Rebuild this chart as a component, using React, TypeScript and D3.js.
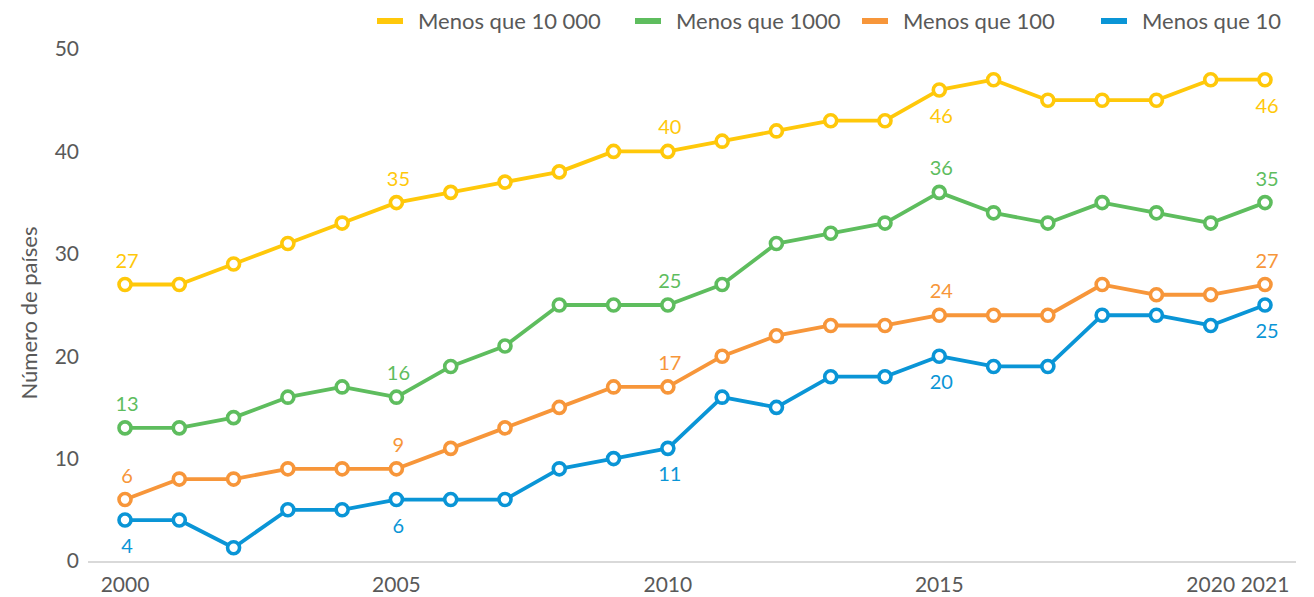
import React from 'react';
import * as d3 from 'd3';

const years = [2000, 2001, 2002, 2003, 2004, 2005, 2006, 2007, 2008, 2009, 2010,
  2011, 2012, 2013, 2014, 2015, 2016, 2017, 2018, 2019, 2020, 2021];

const menos10000 = [27, 27, 29, 31, 33, 35, 36, 37, 38, 40, 40, 41, 42, 43, 43, 46, 47, 45, 45, 45, 47, 47];
const menos1000 = [13, 13, 14, 16, 17, 16, 19, 21, 25, 25, 25, 27, 31, 32, 33, 36, 34, 33, 35, 34, 33, 35];
const menos100 = [6, 8, 8, 9, 9, 9, 11, 13, 15, 17, 17, 20, 22, 23, 23, 24, 24, 24, 27, 26, 26, 27];
const menos10 = [4, 4, 1.3, 5, 5, 6, 6, 6, 9, 10, 11, 16, 15, 18, 18, 20, 19, 19, 24, 24, 23, 25];

// years that carry a value label, and the text shown there
const labelYears = [2000, 2005, 2010, 2015, 2021];
const labels10000 = ['27', '35', '40', '46', '46'];
const labels1000 = ['13', '16', '25', '36', '35'];
const labels100 = ['6', '9', '17', '24', '27'];
const labels10 = ['4', '6', '11', '20', '25'];

const xTicks = [2000, 2005, 2010, 2015, 2020, 2021];
const yTicks = [0, 10, 20, 30, 40, 50];

const series = [
  { name: 'Menos que 10 000', values: menos10000, labels: labels10000, color: '#FFC80A', above: [true, true, true, false, false] },
  { name: 'Menos que 1000', values: menos1000, labels: labels1000, color: '#5EBD5E', above: [true, true, true, true, true] },
  { name: 'Menos que 100', values: menos100, labels: labels100, color: '#F7963A', above: [true, true, true, true, true] },
  { name: 'Menos que 10', values: menos10, labels: labels10, color: '#0A95D6', above: [false, false, false, false, false] },
];

const legendTextX = [418, 676, 903, 1142];

const W = 1314;
const H = 597;
const font = 'Lato, "Open Sans", sans-serif';
const textColor = '#595959';

export default function App() {
  const x = d3.scaleLinear().domain([2000, 2021]).range([125, 1265]);
  const y = d3.scaleLinear().domain([0, 50]).range([561, 49]);

  const line = d3.line<number>()
    .x((_, i) => x(years[i]))
    .y(d => y(d));

  return (
    <svg width={W} height={H} style={{ position: 'absolute', left: 0, top: 0, background: '#fff' }}
      fontFamily={font}>
      {/* legend */}
      {series.map((s, i) => (
        <g key={s.name} transform={`translate(${legendTextX[i]},21)`}>
          <line x1={-41} x2={-15} y1={0} y2={0} stroke={s.color} strokeWidth={6} />
          <text x={0} y={0} dy="0.35em" fontSize={22} fill={textColor}>{s.name}</text>
        </g>
      ))}

      {/* y axis */}
      {yTicks.map(t => (
        <text key={t} x={79} y={y(t)} dy="0.35em" textAnchor="end" fontSize={21} fill={textColor}>{t}</text>
      ))}
      <text transform="translate(29,313) rotate(-90)" textAnchor="middle" dy="0.35em" fontSize={22} fill={textColor}>
        Número de países
      </text>

      {/* baseline */}
      <line x1={88} x2={1296} y1={y(0) + 1} y2={y(0) + 1} stroke="#d9d9d9" strokeWidth={2} />

      {/* x axis labels */}
      {xTicks.map(t => (
        <text key={t} x={x(t)} y={592} textAnchor="middle" fontSize={21} fill={textColor}>{t}</text>
      ))}

      {/* series */}
      {series.map(s => (
        <g key={s.name}>
          <path d={line(s.values) || ''} fill="none" stroke={s.color} strokeWidth={3.8} strokeLinejoin="round" />
          {s.values.map((v, i) => (
            <circle key={i} cx={x(years[i])} cy={y(v)} r={6} fill="#fff" stroke={s.color} strokeWidth={3.6} />
          ))}
          {labelYears.map((yr, j) => {
            const i = years.indexOf(yr);
            const v = s.values[i];
            return (
              <text key={yr} x={x(yr) + 2} y={y(v) + (s.above[j] ? -24 : 26)} dy="0.35em" textAnchor="middle"
                fontSize={20} fill={s.color}>{s.labels[j]}</text>
            );
          })}
        </g>
      ))}
    </svg>
  );
}
